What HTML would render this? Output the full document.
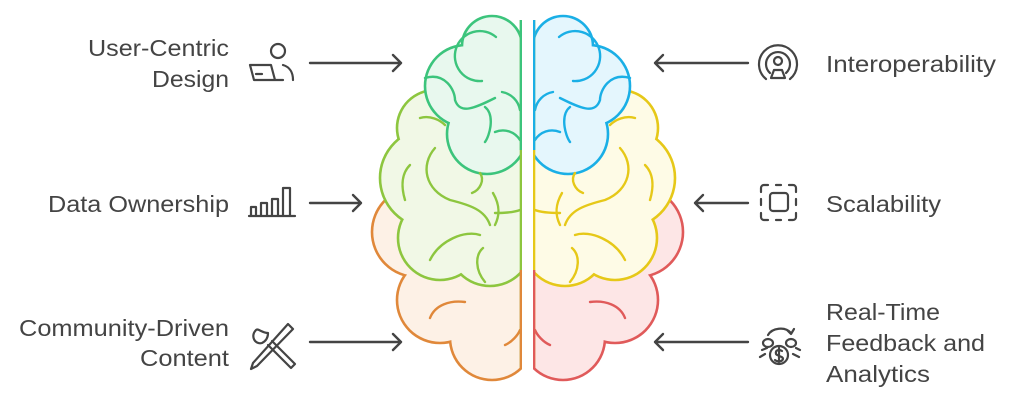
<!DOCTYPE html>
<html><head><style>
html,body{margin:0;padding:0;background:#fff;}
svg{display:block;}
text{font-family:"Liberation Sans",sans-serif;font-size:23px;fill:#444;}
</style></head><body>
<svg width="1024" height="405" viewBox="0 0 1024 405">
<defs>
<clipPath id="L"><rect x="0" y="0" width="522" height="405"/></clipPath>
<clipPath id="R"><rect x="533" y="0" width="500" height="405"/></clipPath>
</defs>
<g clip-path="url(#L)" stroke-width="2.6">
 <g stroke="#e0883a" fill="#e0883a">
  <circle cx="417" cy="232" r="45"/><circle cx="440" cy="300" r="43"/><circle cx="492" cy="338" r="42"/><rect x="470" y="220" width="52" height="135"/>
 </g>
 <g fill="#fdf1e6">
  <circle cx="417" cy="232" r="43.7"/><circle cx="440" cy="300" r="41.7"/><circle cx="492" cy="338" r="40.7"/><rect x="470" y="220" width="50.7" height="135"/>
 </g>
 <g stroke="#8dc63f" fill="#8dc63f">
  <circle cx="435" cy="128" r="38"/><circle cx="430" cy="178" r="50"/><circle cx="440" cy="238" r="42"/><circle cx="490" cy="244" r="42"/><rect x="450" y="100" width="72" height="150"/>
 </g>
 <g fill="#f1f8e6">
  <circle cx="435" cy="128" r="36.7"/><circle cx="430" cy="178" r="48.7"/><circle cx="440" cy="238" r="40.7"/><circle cx="490" cy="244" r="40.7"/><rect x="450" y="100" width="70.7" height="150"/>
 </g>
 <g stroke="#3cc47c" fill="#3cc47c">
  <circle cx="492" cy="46" r="30"/><circle cx="466" cy="86" r="41"/><circle cx="487" cy="134" r="40"/><rect x="480" y="40" width="42" height="100"/>
 </g>
 <g fill="#e8f8ee">
  <circle cx="492" cy="46" r="28.7"/><circle cx="466" cy="86" r="39.7"/><circle cx="487" cy="134" r="38.7"/><rect x="480" y="40" width="40.7" height="100"/>
 </g>
 <g fill="none" stroke-width="2.4" stroke-linecap="round">
  <path d="M496 37 A25 25 0 1 0 482 81" stroke="#3cc47c"/>
  <path d="M502 92 A22 22 0 0 1 520 110" stroke="#3cc47c"/>
  <path d="M425 78 C445 72 455 90 455 100 C460 115 475 108 495 98" stroke="#3cc47c"/>
  <path d="M485 107 C495 115 490 135 485 142 M495 132 C505 128 515 132 520 140" stroke="#3cc47c"/>
  <path d="M420 118 C430 115 440 120 445 125" stroke="#8dc63f"/>
  <path d="M435 148 C420 165 425 190 450 200 C470 205 485 210 490 225" stroke="#8dc63f"/>
  <path d="M410 165 C400 175 402 190 405 200" stroke="#8dc63f"/>
  <path d="M480 173 C485 180 480 190 472 193" stroke="#8dc63f"/>
  <path d="M493 193 C500 205 500 215 495 225 M495 213 C505 213 515 212 520 210" stroke="#8dc63f"/>
  <path d="M430 260 C440 240 465 230 480 235" stroke="#8dc63f"/>
  <path d="M483 248 C475 255 475 270 485 282" stroke="#8dc63f"/>
  <path d="M430 318 C435 305 450 300 465 302" stroke="#e0883a"/>
  <path d="M505 345 C512 342 518 335 520 330" stroke="#e0883a"/>
 </g>
 <line x1="521" y1="20" x2="521" y2="368" stroke="#8dc63f"/>
 <line x1="521" y1="20" x2="521" y2="150" stroke="#3cc47c"/>
 <line x1="521" y1="270" x2="521" y2="368" stroke="#e0883a"/>
</g>
<g clip-path="url(#R)" stroke-width="2.6">
 <g stroke="#e05a5a" fill="#e05a5a">
  <circle cx="638" cy="232" r="45"/><circle cx="615" cy="300" r="43"/><circle cx="563" cy="338" r="42"/><rect x="533" y="220" width="52" height="135"/>
 </g>
 <g fill="#fde6e6">
  <circle cx="638" cy="232" r="43.7"/><circle cx="615" cy="300" r="41.7"/><circle cx="563" cy="338" r="40.7"/><rect x="534.3" y="220" width="50.7" height="135"/>
 </g>
 <g stroke="#e6c818" fill="#e6c818">
  <circle cx="620" cy="128" r="38"/><circle cx="625" cy="178" r="50"/><circle cx="615" cy="238" r="42"/><circle cx="565" cy="244" r="42"/><rect x="533" y="100" width="72" height="150"/>
 </g>
 <g fill="#fefbe6">
  <circle cx="620" cy="128" r="36.7"/><circle cx="625" cy="178" r="48.7"/><circle cx="615" cy="238" r="40.7"/><circle cx="565" cy="244" r="40.7"/><rect x="534.3" y="100" width="70.7" height="150"/>
 </g>
 <g stroke="#1aafe6" fill="#1aafe6">
  <circle cx="563" cy="46" r="30"/><circle cx="589" cy="86" r="41"/><circle cx="568" cy="134" r="40"/><rect x="533" y="40" width="42" height="100"/>
 </g>
 <g fill="#e4f6fd">
  <circle cx="563" cy="46" r="28.7"/><circle cx="589" cy="86" r="39.7"/><circle cx="568" cy="134" r="38.7"/><rect x="534.3" y="40" width="40.7" height="100"/>
 </g>
 <g fill="none" stroke-width="2.4" stroke-linecap="round">
  <path d="M559 37 A25 25 0 1 1 573 81" stroke="#1aafe6"/>
  <path d="M553 92 A22 22 0 0 0 535 110" stroke="#1aafe6"/>
  <path d="M630 78 C610 72 600 90 600 100 C595 115 580 108 560 98" stroke="#1aafe6"/>
  <path d="M570 107 C560 115 565 135 570 142 M560 132 C550 128 540 132 535 140" stroke="#1aafe6"/>
  <path d="M635 118 C625 115 615 120 610 125" stroke="#e6c818"/>
  <path d="M620 148 C635 165 630 190 605 200 C585 205 570 210 565 225" stroke="#e6c818"/>
  <path d="M645 165 C655 175 653 190 650 200" stroke="#e6c818"/>
  <path d="M575 173 C570 180 575 190 583 193" stroke="#e6c818"/>
  <path d="M562 193 C555 205 555 215 560 225 M560 213 C550 213 540 212 535 210" stroke="#e6c818"/>
  <path d="M625 260 C615 240 590 230 575 235" stroke="#e6c818"/>
  <path d="M572 248 C580 255 580 270 570 282" stroke="#e6c818"/>
  <path d="M625 318 C620 305 605 300 590 302" stroke="#e05a5a"/>
  <path d="M550 345 C543 342 537 335 535 330" stroke="#e05a5a"/>
 </g>
 <line x1="534" y1="20" x2="534" y2="368" stroke="#e6c818"/>
 <line x1="534" y1="20" x2="534" y2="150" stroke="#1aafe6"/>
 <line x1="534" y1="270" x2="534" y2="368" stroke="#e05a5a"/>
</g>
<g stroke="#444" stroke-width="2.4" fill="none" stroke-linecap="round" stroke-linejoin="round">
 <path d="M310 63 H401 M393 55 L401 63 L393 71"/>
 <path d="M310 203 H361 M353 195 L361 203 L353 211"/>
 <path d="M310 342 H401 M393 334 L401 342 L393 350"/>
 <path d="M748 63 H655 M663 55 L655 63 L663 71"/>
 <path d="M748 203 H695 M703 195 L695 203 L703 211"/>
 <path d="M748 342 H655 M663 334 L655 342 L663 350"/>
</g>
<g stroke="#444" stroke-width="2.2" fill="none" stroke-linecap="round" stroke-linejoin="round">
 <circle cx="278" cy="51" r="7"/>
 <path d="M250 65 H271 L275 80 H254 Z M256 74 H262 M275 80 H283 M283 65 C290 67 293 73 293 80"/>
 <path d="M249 216 H295 M251 215 V207 H256 V215 M261 215 V203 H267 V215 M272 215 V199 H278 V215 M283 215 V188 H290 V215"/>
 <path d="M256 330 C250 336 255 345 262 343 C266 341 268 338 268 333 C262 333 258 328 256 330 Z"/>
 <path d="M288 324 L293 329 L257 366 L251 369 L253 363 Z"/>
 <path d="M268 345 L291 368 L295 364 L272 341"/>
 <path d="M766 79 A19 19 0 1 1 790 79"/>
 <path d="M770 73 A12 12 0 1 1 786 73"/>
 <circle cx="778" cy="61" r="4"/><path d="M771 78 L774 70 H782 L785 78 Z"/>
 <path d="M764 185 H768 M776 185 H781 M789 185 H793 A3 3 0 0 1 796 188 V192 M796 199 V205 M796 213 V217 A3 3 0 0 1 793 220 H789 M781 220 H776 M768 220 H764 A3 3 0 0 1 761 217 V213 M761 205 V199 M761 192 V188 A3 3 0 0 1 764 185"/>
 <rect x="770" y="193" width="18" height="18" rx="3"/>
 <circle cx="779" cy="355" r="9"/>
 <path d="M779 348 V362 M782 351 C779 349 775 350 776 354 C777 356 783 356 783 359 C782 362 777 362 775 360"/>
 <path d="M768 335 C772 328 785 326 791 333 M787 330 L791 334 L794 329"/>
 <ellipse cx="768" cy="343" rx="5" ry="4"/><ellipse cx="791" cy="343" rx="5" ry="4"/>
 <path d="M762 350 L767 348 M760 357 L765 354 M796 348 L800 350 M793 354 L799 357"/>
</g>
<text x="88" y="56" textLength="141" lengthAdjust="spacingAndGlyphs">User-Centric</text>
<text x="152" y="87" textLength="77" lengthAdjust="spacingAndGlyphs">Design</text>
<text x="48" y="212" textLength="181" lengthAdjust="spacingAndGlyphs">Data Ownership</text>
<text x="19" y="336" textLength="210" lengthAdjust="spacingAndGlyphs">Community-Driven</text>
<text x="140" y="366" textLength="89" lengthAdjust="spacingAndGlyphs">Content</text>
<text x="826" y="72" textLength="170" lengthAdjust="spacingAndGlyphs">Interoperability</text>
<text x="826" y="212" textLength="115" lengthAdjust="spacingAndGlyphs">Scalability</text>
<text x="826" y="320" textLength="114" lengthAdjust="spacingAndGlyphs">Real-Time</text>
<text x="826" y="351" textLength="159" lengthAdjust="spacingAndGlyphs">Feedback and</text>
<text x="826" y="382" textLength="104" lengthAdjust="spacingAndGlyphs">Analytics</text>
</svg>
</body></html>
